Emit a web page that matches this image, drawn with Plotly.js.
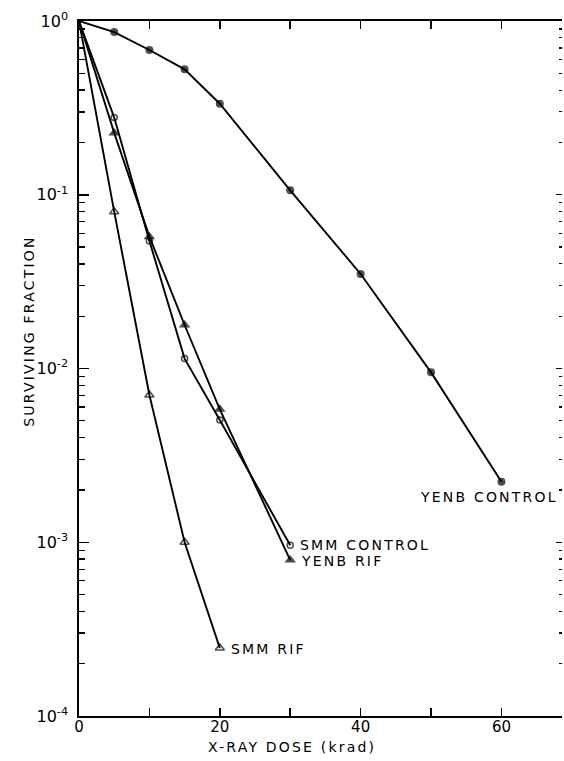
<!DOCTYPE html>
<html>
<head>
<meta charset="utf-8">
<script src="https://cdn.plot.ly/plotly-3.0.1.min.js"></script>
<style>html,body{margin:0;padding:0;background:#fff;}#chart{width:564px;height:761px;}</style>
</head>
<body>
<div id="chart"></div>
<script>
// X-ray dose (krad)
var yenbControlDose = [0, 5, 10, 15, 20, 30, 40, 50, 60];
var yenbControlSurv = [1, 0.864, 0.681, 0.527, 0.334, 0.106, 0.035, 0.0095, 0.00223];

var smmControlDose = [0, 5, 10, 15, 20, 30];
var smmControlSurv = [1, 0.278, 0.0542, 0.0114, 0.00505, 0.00096];

var yenbRifDose = [0, 5, 10, 15, 20, 30];
var yenbRifSurv = [1, 0.227, 0.0574, 0.0178, 0.00582, 0.00079];

var smmRifDose = [0, 5, 10, 15, 20];
var smmRifSurv = [1, 0.0799, 0.00704, 0.001, 0.000246];

var seriesLabels = ["YENB CONTROL", "SMM CONTROL", "YENB RIF", "SMM RIF"];
var labelX = [48.1, 31.1, 31.2, 21.3];
var labelY = [0.00182, 0.00096, 0.00078, 0.000242];

var xTickVals = [0, 10, 20, 30, 40, 50, 60];
var xTickText = ["0", "", "20", "", "40", "", "60"];
var yTickVals = [1, 0.1, 0.01, 0.001, 0.0001];
var yTickText = ["10<sup>0</sup>", "10<sup>-1</sup>", "10<sup>-2</sup>", "10<sup>-3</sup>", "10<sup>-4</sup>"];

var minorVals = [];
for (var d = 0; d < 4; d++) {
  for (var m = 2; m <= 9; m++) minorVals.push(m * Math.pow(10, -4 + d));
}

function sizes(n, s) { var a = [0]; for (var i = 1; i < n; i++) a.push(s); return a; }

var FONT = "DejaVu Sans, Liberation Sans, sans-serif";
var lineStyle = {color: "#000", width: 1.9};

var traces = [
  {x: yenbControlDose, y: yenbControlSurv, mode: "lines+markers", line: lineStyle,
   marker: {symbol: "circle", color: "#000", size: sizes(yenbControlDose.length, 8), line: {width: 0}}},
  {x: smmControlDose, y: smmControlSurv, mode: "lines+markers", line: lineStyle,
   marker: {symbol: "circle-open", color: "#000", size: sizes(smmControlDose.length, 6), line: {width: 1.5, color: "#000"}}},
  {x: yenbRifDose, y: yenbRifSurv, mode: "lines+markers", line: lineStyle,
   marker: {symbol: "triangle-up", color: "#000", size: sizes(yenbRifDose.length, 10), line: {width: 0}}},
  {x: smmRifDose, y: smmRifSurv, mode: "lines+markers", line: lineStyle,
   marker: {symbol: "triangle-up-open", color: "#000", size: sizes(smmRifDose.length, 8), line: {width: 1.5, color: "#000"}}},
  {x: [0], y: [1], yaxis: "y2", mode: "markers", marker: {size: 0, opacity: 0}, hoverinfo: "skip"}
];

function sp(t) { return '<span style="letter-spacing:2.2px">' + t + '</span>'; }

var annotations = seriesLabels.map(function (t, i) {
  return {x: labelX[i], y: Math.log10(labelY[i]), xref: "x", yref: "y", text: sp(t),
    showarrow: false, xanchor: "left", yanchor: "middle",
    font: {family: FONT, size: 14, color: "#000"}};
});
annotations.push({xref: "paper", yref: "paper", x: 0.44, y: -0.044, text: sp("X-RAY DOSE (krad)"),
  showarrow: false, xanchor: "center", yanchor: "middle", font: {family: FONT, size: 14, color: "#000"}});
annotations.push({xref: "paper", yref: "paper", x: -0.104, y: 0.554, text: sp("SURVIVING FRACTION"),
  textangle: -90, showarrow: false, xanchor: "center", yanchor: "middle", font: {family: FONT, size: 14, color: "#000"}});

var layout = {
  width: 564, height: 761,
  margin: {l: 79, r: 2, t: 21, b: 45},
  paper_bgcolor: "#fff", plot_bgcolor: "#fff",
  showlegend: false,
  font: {family: FONT, color: "#000"},
  xaxis: {range: [0, 68.6], tickmode: "array", tickvals: xTickVals, ticktext: xTickText,
    ticks: "inside", ticklen: 8, tickwidth: 1.5, tickcolor: "#000", ticklabelstandoff: -4,
    showline: true, linecolor: "#000", linewidth: 1.8, mirror: "ticks",
    showgrid: false, zeroline: false, tickfont: {family: FONT, size: 15, color: "#000"}},
  yaxis: {type: "log", range: [-4, 0], tickmode: "array", tickvals: yTickVals, ticktext: yTickText,
    ticks: "inside", ticklen: 10, tickwidth: 1.5, tickcolor: "#000", ticklabelstandoff: 6,
    showline: true, linecolor: "#000", linewidth: 1.8,
    showgrid: false, zeroline: false, tickfont: {family: FONT, size: 16, color: "#000"},
    minor: {tickmode: "array", tickvals: minorVals, ticks: "inside", ticklen: 6, tickwidth: 1.3, tickcolor: "#000", showgrid: false}},
  yaxis2: {type: "log", range: [-4, 0], overlaying: "y", side: "right", showline: false,
    tickmode: "array", tickvals: yTickVals, ticks: "inside", ticklen: 6, tickwidth: 1.2, tickcolor: "#000",
    showticklabels: false, showgrid: false, zeroline: false,
    minor: {tickmode: "array", tickvals: minorVals, ticks: "inside", ticklen: 3, tickwidth: 1.2, tickcolor: "#000", showgrid: false}},
  annotations: annotations
};

Plotly.newPlot("chart", traces, layout, {staticPlot: true, displayModeBar: false});
</script>
</body>
</html>
